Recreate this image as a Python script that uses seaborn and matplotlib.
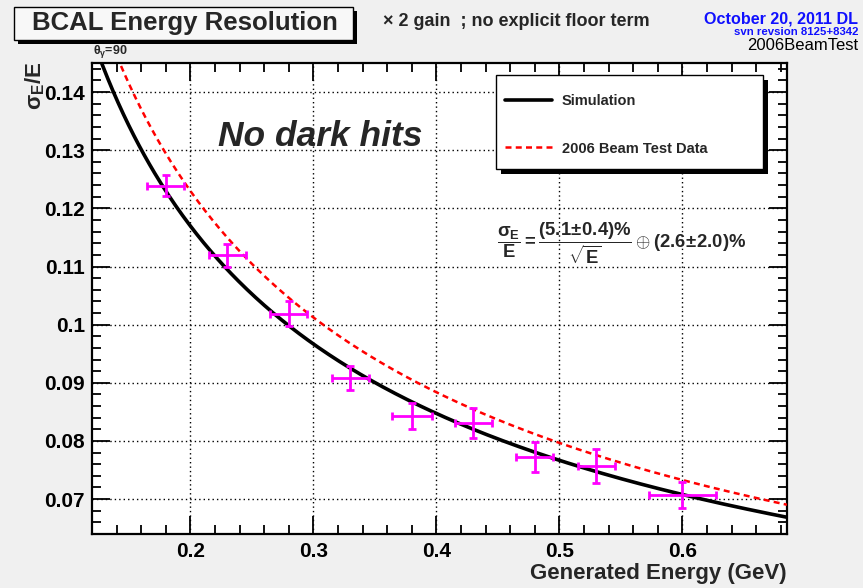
import numpy as np
import pandas as pd
import matplotlib
matplotlib.use("Agg")
import matplotlib.pyplot as plt
import seaborn as sns
from matplotlib.patches import Rectangle
from matplotlib.ticker import MultipleLocator, FixedLocator, FormatStrFormatter

# ---- measured resolution points (2006 beam test) ----
energy_gev = [0.18, 0.23, 0.28, 0.33, 0.38, 0.43, 0.48, 0.53, 0.60]
energy_err = [0.015, 0.015, 0.015, 0.015, 0.016, 0.015, 0.015, 0.015, 0.027]
resolution = [0.1239, 0.1119, 0.1019, 0.0908, 0.0843, 0.0831, 0.0772, 0.0757, 0.0707]
resolution_err = [0.0018, 0.0019, 0.0021, 0.0021, 0.0022, 0.0026, 0.0026, 0.0029, 0.0023]

# ---- fitted resolution functions: sigma/E = a/sqrt(E) (+) b, in percent ----
sim_stochastic, sim_constant = 5.1, 2.6
beam_stochastic, beam_constant = 5.41, 2.22

x_ticks = [0.2, 0.3, 0.4, 0.5, 0.6]
y_ticks = [0.07, 0.08, 0.09, 0.10, 0.11, 0.12, 0.13, 0.14]
x_range = (0.12, 0.685)
y_range = (0.064, 0.145)

W, H = 863, 588
sns.set_theme(style="ticks")
plt.rcParams["font.family"] = ["Liberation Sans", "DejaVu Sans"]
plt.rcParams["font.weight"] = "bold"
plt.rcParams["mathtext.fontset"] = "custom"
plt.rcParams["mathtext.rm"] = "Liberation Sans:bold"
plt.rcParams["mathtext.it"] = "Liberation Sans:bold"
plt.rcParams["mathtext.bf"] = "Liberation Sans:bold"
plt.rcParams["mathtext.sf"] = "Liberation Sans:bold"


def fx(px):
    return px / W


def fy(py):
    return 1 - py / H


def resolution_curve(stoch, const, e):
    return np.sqrt((stoch / 100) ** 2 / e + (const / 100) ** 2)


bg = "#f0f0f0"
fig = plt.figure(figsize=(W / 100, H / 100), dpi=100, facecolor=bg)
ax = fig.add_axes([fx(92), fy(534), fx(787) - fx(92), fy(63) - fy(534)])
ax.set_facecolor("white")

e_grid = np.linspace(x_range[0], x_range[1], 400)
sim_df = pd.DataFrame({"E": e_grid, "res": resolution_curve(sim_stochastic, sim_constant, e_grid)})
beam_df = pd.DataFrame({"E": e_grid, "res": resolution_curve(beam_stochastic, beam_constant, e_grid)})

sns.lineplot(data=sim_df, x="E", y="res", ax=ax, color="black", linewidth=2.6,
             label="Simulation", zorder=4)
sns.lineplot(data=beam_df, x="E", y="res", ax=ax, color="red", linewidth=1.8,
             label="2006 Beam Test Data", zorder=3)
ax.lines[-1].set_dashes((2.4, 1.7))
handles = list(ax.lines[:2])
ax.get_legend().remove()

ax.errorbar(energy_gev, resolution, xerr=energy_err, yerr=resolution_err,
            fmt="none", ecolor="#ff00ff", elinewidth=2.0, capsize=2.8,
            capthick=2.0, zorder=5)

ax.set_xlim(*x_range)
ax.set_ylim(*y_range)
ax.xaxis.set_major_locator(FixedLocator(x_ticks))
ax.yaxis.set_major_locator(FixedLocator(y_ticks))
ax.xaxis.set_minor_locator(MultipleLocator(0.02))
ax.yaxis.set_minor_locator(MultipleLocator(0.002))
ax.xaxis.set_major_formatter(FormatStrFormatter("%g"))
ax.yaxis.set_major_formatter(FormatStrFormatter("%g"))
ax.grid(True, which="major", color="black", linestyle=(0, (1, 2.2)), linewidth=1.0)
ax.tick_params(which="both", direction="in", top=True, right=True, width=1.3,
               colors="black", labelsize=15)
ax.tick_params(which="major", length=13, pad=5)
ax.tick_params(which="minor", length=6.5)
ax.tick_params(axis="x", which="major", pad=6)
for lab in ax.get_xticklabels() + ax.get_yticklabels():
    lab.set_fontweight("bold")
for sp in ax.spines.values():
    sp.set_linewidth(1.6)
    sp.set_color("black")
ax.set_xlabel("")
ax.set_ylabel("")

# axis titles
fig.text(fx(787), fy(573), "Generated Energy (GeV)", ha="right", va="center",
         fontsize=16, fontweight="bold")
fig.text(fx(35), fy(62), r"$\sigma_E$/E", rotation=90, ha="center", va="top",
         fontsize=16, fontweight="bold")
fig.text(fx(93), fy(52), r"$\theta_\gamma$=90", ha="left", va="center",
         fontsize=9, fontweight="bold")

# title box with shadow
fig.add_artist(Rectangle((fx(18), fy(44)), fx(339), fy(7) - fy(40),
                         transform=fig.transFigure, facecolor="black",
                         edgecolor="none", zorder=2))
fig.add_artist(Rectangle((fx(14), fy(40)), fx(339), fy(7) - fy(40),
                         transform=fig.transFigure, facecolor="#f8f8f8",
                         edgecolor="black", linewidth=1.0, zorder=3))
fig.text(fx(185), fy(23), "BCAL Energy Resolution", ha="center", va="center",
         fontsize=18.5, fontweight="bold", zorder=4)

# header annotations
fig.text(fx(383), fy(21), "\u00d7 2 gain  ; no explicit floor term", ha="left",
         va="center", fontsize=13, fontweight="bold")
fig.text(fx(858), fy(19), "October 20, 2011 DL", ha="right", va="center",
         fontsize=11.6, fontweight="bold", color="#1010ff")
fig.text(fx(858), fy(32), "svn revsion 8125+8342", ha="right", va="center",
         fontsize=8.2, fontweight="bold", color="#1010ff")
fig.text(fx(858), fy(45), "2006BeamTest", ha="right", va="center",
         fontsize=12, fontweight="normal", color="black")

# in-plot annotations
fig.text(fx(218), fy(137), "No dark hits", ha="left", va="center",
         fontsize=25.5, fontweight="bold", style="italic", zorder=6)
fig.text(fx(497), fy(243),
         r"$\dfrac{\sigma_E}{E} = \dfrac{(5.1\!\pm\!0.4)\%}{\sqrt{E}}\oplus(2.6\!\pm\!2.0)\%$",
         ha="left", va="center", fontsize=13.3)

# legend box with shadow
fig.add_artist(Rectangle((fx(501), fy(174)), fx(267), fy(75) - fy(169),
                         transform=fig.transFigure, facecolor="black",
                         edgecolor="none", zorder=2))
fig.add_artist(Rectangle((fx(496), fy(169)), fx(267), fy(75) - fy(169),
                         transform=fig.transFigure, facecolor="white",
                         edgecolor="black", linewidth=1.0, zorder=3))
fig.legend(handles, ["Simulation", "2006 Beam Test Data"], loc="upper left",
           bbox_to_anchor=(fx(505), fy(94)), frameon=False, borderpad=0,
           borderaxespad=0, handlelength=3.2, handletextpad=0.68,
           labelspacing=2.3, prop={"size": 10.5, "weight": "bold"})

fig.savefig("out.png", dpi=100, facecolor=bg)
